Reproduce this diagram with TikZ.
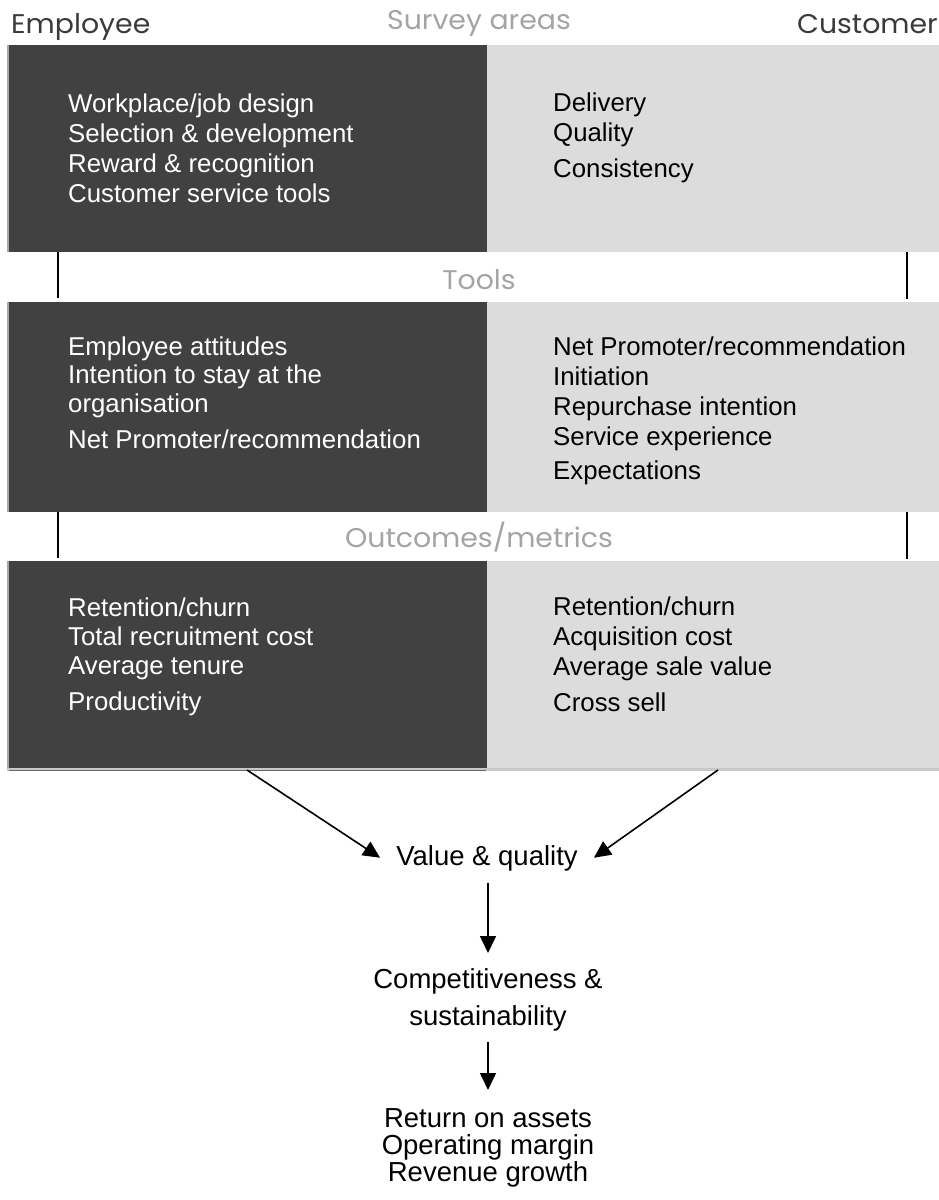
\documentclass[tikz,border=0pt]{standalone}
\usepackage{fontspec}
\setmainfont{Liberation Sans}
\newfontfamily\headfont[FakeStretch=1.05]{Poppins}
\usetikzlibrary{arrows.meta}
\definecolor{darkfill}{HTML}{414141}
\definecolor{lightfill}{HTML}{DCDCDC}
\definecolor{headgrey}{HTML}{A4A4A4}
\definecolor{sidegrey}{HTML}{3A3A3A}
\definecolor{edgegrey}{HTML}{A6A6A6}
\definecolor{lineedge}{HTML}{C8C8C8}
\begin{document}
\begin{tikzpicture}[x=1pt,y=-1pt,
  darkp/.style={fill=darkfill,draw=none,inner sep=0pt,anchor=north west},
  lightp/.style={fill=lightfill,draw=none,inner sep=0pt,anchor=north west},
  wtxt/.style={anchor=base west,text=white,font=\fontsize{25.8}{29}\selectfont,inner sep=0pt},
  btxt/.style={wtxt,text=black},
  ctxt/.style={text=black,font=\fontsize{27.5}{30}\selectfont,inner sep=0pt},
  head/.style={font=\headfont\fontsize{27}{30}\selectfont,text=headgrey,inner sep=0pt,anchor=base},
  side/.style={font=\headfont\fontsize{27}{30}\selectfont,text=sidegrey,inner sep=0pt},
  conn/.style={line width=1.8pt,black},
  arr/.style={line width=1.6pt,black,-{Triangle[length=17pt,width=16pt]}}]
\useasboundingbox (0,0) rectangle (939,1200);
\fill[white] (0,0) rectangle (939,1200);

% headers
\node[side,anchor=base west] (hemp) at (11,33) {Employee};
\node[side,anchor=base east] (hcus) at (938,33) {Customer};
\node[head] (hsur) at (479,29) {Survey areas};
\node[head] (htoo) at (479,289) {Tools};
\node[head] (hout) at (479,547) {Outcomes/metrics};

% panels
\node[darkp,minimum width=477.5pt,minimum height=207pt] (p1d) at (9,45) {};
\node[lightp,minimum width=452.5pt,minimum height=207pt] (p1l) at (486.5,45) {};
\node[darkp,minimum width=477.5pt,minimum height=210pt] (p2d) at (9,302) {};
\node[lightp,minimum width=452.5pt,minimum height=210pt] (p2l) at (486.5,302) {};
\node[darkp,minimum width=477.5pt,minimum height=207pt] (p3d) at (9,561) {};
\node[lightp,minimum width=452.5pt,minimum height=207pt] (p3l) at (486.5,561) {};
\foreach \p in {p1d,p2d,p3d}{
  \fill[edgegrey] ([xshift=-2pt]\p.north west) rectangle (\p.south west);
}
\fill[lineedge] (7,768) rectangle (939,770.5);
\draw[line width=1pt,darkfill!80] (9,770) -- (486,770);

% vertical connectors between panels
\coordinate (c1a) at (58,252); \coordinate (c1b) at (58,298);
\coordinate (c2a) at (907,252); \coordinate (c2b) at (907,299);
\coordinate (c3a) at (58,512); \coordinate (c3b) at (58,558);
\coordinate (c4a) at (907,512); \coordinate (c4b) at (907,559);
\draw[conn] (c1a) -- (c1b);
\draw[conn] (c2a) -- (c2b);
\draw[conn] (c3a) -- (c3b);
\draw[conn] (c4a) -- (c4b);

% panel 1 text
\node[wtxt] (e11) at (68,112) {Workplace/job design};
\node[wtxt] (e12) at (68,142) {Selection \& development};
\node[wtxt] (e13) at (68,172) {Reward \& recognition};
\node[wtxt] (e14) at (68,202) {Customer service tools};
\node[btxt] (c11) at (553,111) {Delivery};
\node[btxt] (c12) at (553,141) {Quality};
\node[btxt] (c13) at (553,177) {Consistency};

% panel 2 text
\node[wtxt] (e21) at (68,355) {Employee attitudes};
\node[wtxt] (e22) at (68,383) {Intention to stay at the};
\node[wtxt] (e23) at (68,412) {organisation};
\node[wtxt] (e24) at (68,448) {Net Promoter/recommendation};
\node[btxt] (c21) at (553,355) {Net Promoter/recommendation};
\node[btxt] (c22) at (553,385) {Initiation};
\node[btxt] (c23) at (553,415) {Repurchase intention};
\node[btxt] (c24) at (553,445) {Service experience};
\node[btxt] (c25) at (553,479) {Expectations};

% panel 3 text
\node[wtxt] (e31) at (68,616) {Retention/churn};
\node[wtxt] (e32) at (68,645) {Total recruitment cost};
\node[wtxt] (e33) at (68,674) {Average tenure};
\node[wtxt] (e34) at (68,710) {Productivity};
\node[btxt] (c31) at (553,615) {Retention/churn};
\node[btxt] (c32) at (553,645) {Acquisition cost};
\node[btxt] (c33) at (553,675) {Average sale value};
\node[btxt] (c34) at (553,711) {Cross sell};

% flow
\node[ctxt,anchor=base,inner xsep=16pt,text height=20pt,text depth=5.5pt] (vq) at (487,865) {Value \& quality};
\node[ctxt,anchor=north,align=center,font=\fontsize{27.5}{37}\selectfont] (comp) at (488,968) {Competitiveness \&\\sustainability};
\node[ctxt,anchor=north,align=center,font=\fontsize{27.5}{27}\selectfont] (ret) at (488,1108) {Return on assets\\Operating margin\\Revenue growth};

\coordinate (s1) at (247,770);
\coordinate (s2) at (718,770);
\draw[arr] (s1) -- (vq.west);
\draw[arr] (s2) -- (vq.east);
\draw[arr,shorten <=12.5pt,shorten >=15pt] (vq.south -| comp.north) -- (comp.north);
\draw[arr,shorten <=11pt,shorten >=18pt] (comp.south) -- (ret.north);
\end{tikzpicture}
\end{document}
